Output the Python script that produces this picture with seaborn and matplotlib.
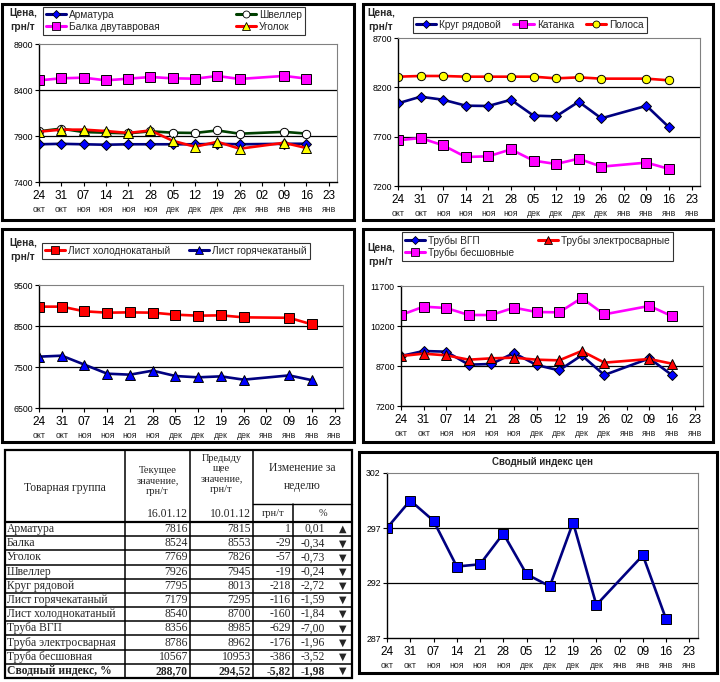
import matplotlib
matplotlib.use('Agg')
import matplotlib.pyplot as plt
from matplotlib.patches import Rectangle
from matplotlib.lines import Line2D
import seaborn as sns

sns.set_style('white')
plt.rcParams['font.family'] = ['Liberation Sans', 'DejaVu Sans']

# ---- axis labels ----
days = ['24', '31', '07', '14', '21', '28', '05', '12', '19', '26', '02', '09', '16', '23']
months = ['окт', 'окт', 'ноя', 'ноя', 'ноя', 'ноя', 'дек', 'дек', 'дек', 'дек', 'янв', 'янв', 'янв', 'янв']
data_idx = [0, 1, 2, 3, 4, 5, 6, 7, 8, 9, 11, 12]  # no point on 02 янв

# ---- panel 1 ----
armatura = [7810, 7815, 7810, 7805, 7810, 7810, 7810, 7810, 7815, 7810, 7815, 7816]
balka = [8505, 8527, 8534, 8505, 8523, 8541, 8527, 8523, 8552, 8520, 8553, 8524]
shveller = [7951, 7980, 7943, 7936, 7929, 7951, 7936, 7933, 7960, 7925, 7945, 7926]
ugolok = [7947, 7969, 7969, 7954, 7933, 7960, 7848, 7783, 7837, 7762, 7826, 7769]

# ---- panel 2 ----
krug = [8038, 8105, 8074, 8014, 8011, 8074, 7913, 7906, 8054, 7886, 8013, 7795]
katanka = [7663, 7686, 7612, 7494, 7501, 7571, 7457, 7423, 7477, 7396, 7437, 7373]
polosa = [8308, 8315, 8315, 8308, 8308, 8308, 8308, 8291, 8301, 8288, 8288, 8271]

# ---- panel 3 ----
list_hol = [8972, 8972, 8858, 8825, 8833, 8825, 8776, 8752, 8760, 8711, 8700, 8540]
list_gor = [7752, 7776, 7557, 7337, 7313, 7411, 7280, 7248, 7272, 7191, 7295, 7179]

# ---- panel 4 ----
truby_vgp = [9075, 9262, 9237, 8750, 8775, 9187, 8737, 8537, 9100, 8362, 8985, 8356]
truby_el = [9075, 9162, 9100, 8937, 8987, 9012, 8937, 8912, 9262, 8825, 8962, 8786]
truby_bs = [10612, 10925, 10875, 10612, 10612, 10887, 10725, 10712, 11250, 10637, 10953, 10567]

# ---- panel 5 ----
index_vals = [297.0, 299.5, 297.66, 293.5, 293.7, 296.5, 292.8, 291.7, 297.5, 290.0, 294.52, 288.70]

# ---- table ----
tbl_names = ['Арматура', 'Балка', 'Уголок', 'Швеллер', 'Круг рядовой', 'Лист горячекатаный',
             'Лист холоднокатаный', 'Труба ВГП', 'Труба электросварная', 'Труба бесшовная',
             'Сводный индекс, %']
tbl_cur = ['7816', '8524', '7769', '7926', '7795', '7179', '8540', '8356', '8786', '10567', '288,70']
tbl_prev = ['7815', '8553', '7826', '7945', '8013', '7295', '8700', '8985', '8962', '10953', '294,52']
tbl_abs = ['1', '-29', '-57', '-19', '-218', '-116', '-160', '-629', '-176', '-386', '-5,82']
tbl_pct = ['0,01', '-0,34', '-0,73', '-0,24', '-2,72', '-1,59', '-1,84', '-7,00', '-1,96', '-3,52', '-1,98']
tbl_dir = ['▲', '▼', '▼', '▼', '▼', '▼', '▼', '▼', '▼', '▼', '▼']

W, H = 720, 682
fig = plt.figure(figsize=(W / 100, H / 100), dpi=100)

NAVY, BLUE, MAG, RED, YEL, GRN = '#000080', '#0000ff', '#ff00ff', '#ff0000', '#ffff00', '#004000'


def fig_rect(x0, y0, x1, y1):
    return [x0 / W, 1 - y1 / H, (x1 - x0) / W, (y1 - y0) / H]


def frame(x0, y0, x1, y1):
    fig.patches.append(Rectangle((x0 / W, 1 - y1 / H), (x1 - x0) / W, (y1 - y0) / H,
                                 transform=fig.transFigure, fill=False, ec='black', lw=2.2))


def panel(box, series, ylim, yticks, title=None):
    ax = fig.add_axes(fig_rect(*box))
    handles = []
    for vals, label, lc, mk, mfc, ms in series:
        sns.lineplot(x=data_idx, y=vals, ax=ax, color=lc, lw=1.9, marker=mk, markersize=ms,
                     markerfacecolor=mfc, markeredgecolor='black', markeredgewidth=0.7)
        handles.append(Line2D([], [], color=lc, lw=2.2, marker=mk, markersize=ms - 1,
                              markerfacecolor=mfc, markeredgecolor='black', markeredgewidth=0.6,
                              label=label))
    ax.set_xlim(0, 13.37)
    ax.set_ylim(*ylim)
    ax.set_yticks(yticks)
    ax.set_yticklabels([str(v) for v in yticks], fontsize=6.3)
    ax.set_xticks(range(len(days)))
    ax.set_xticklabels(days, fontsize=8.5)
    for i, m in enumerate(months):
        ax.annotate(m, xy=(i, 0), xycoords=('data', 'axes fraction'), xytext=(0, -19.5),
                    textcoords='offset points', ha='center', va='center', fontsize=6.3)
    for y in yticks[1:-1]:
        ax.axhline(y, color='black', lw=0.9, zorder=0)
    ax.tick_params(axis='both', direction='out', length=3, width=0.8, pad=1.5,
                   bottom=True, left=True, colors='black')
    ax.tick_params(axis='x', pad=3)
    for s in ['top', 'right']:
        ax.spines[s].set_color('#808080')
        ax.spines[s].set_linewidth(0.8)
    for s in ['left', 'bottom']:
        ax.spines[s].set_color('black')
        ax.spines[s].set_linewidth(1.0)
    ax.set_xlabel('')
    ax.set_ylabel('')
    if title:
        ax.set_title(title, fontsize=7, fontweight='bold', pad=6)
    return ax, handles


def legend(ax, handles, box, ncol, order=None):
    x0, y0, x1, y1 = box
    if order:
        handles = [handles[i] for i in order]
    lg = ax.legend(handles=handles, ncol=ncol, loc='upper left', mode='expand',
                   bbox_to_anchor=(x0 / W, 1 - y1 / H, (x1 - x0) / W, (y1 - y0) / H),
                   bbox_transform=fig.transFigure,
                   fontsize=7.3, frameon=True, fancybox=False, edgecolor='black',
                   handlelength=2.0, handletextpad=0.3, columnspacing=1.0,
                   borderpad=0.3, labelspacing=0.15, borderaxespad=0)
    lg.get_frame().set_linewidth(0.8)


def price_label(x, y):
    fig.text(x / W, 1 - y / H, 'Цена,\nгрн/т', ha='center', va='top', fontsize=7.3,
             fontweight='bold', linespacing=1.5)


# panel 1
frame(2, 4, 354, 220)
ax1, h1 = panel((39, 44, 337, 182), [
    (armatura, 'Арматура', NAVY, 'D', BLUE, 5),
    (balka, 'Балка двутавровая', MAG, 's', MAG, 6.5),
    (shveller, 'Швеллер', GRN, 'o', 'white', 6),
    (ugolok, 'Уголок', RED, '^', YEL, 6.5),
], (7400, 8900), [7400, 7900, 8400, 8900])
legend(ax1, h1, (43, 7, 305, 35), 2)
price_label(23, 8)

# panel 2
frame(363, 4, 713, 220)
ax2, h2 = panel((398, 38, 700, 186), [
    (krug, 'Круг рядовой', NAVY, 'D', BLUE, 5),
    (katanka, 'Катанка', MAG, 's', MAG, 6.5),
    (polosa, 'Полоса', RED, 'o', YEL, 6),
], (7200, 8700), [7200, 7700, 8200, 8700])
legend(ax2, h2, (413, 17, 647, 33), 3)
price_label(381, 8)

# panel 3
frame(2, 229, 354, 442)
ax3, h3 = panel((39, 285, 343, 408), [
    (list_hol, 'Лист холоднокатаный', RED, 's', RED, 6.5),
    (list_gor, 'Лист горячекатаный', NAVY, '^', BLUE, 6.5),
], (6500, 9500), [6500, 7500, 8500, 9500])
legend(ax3, h3, (42, 243, 310, 261), 2)
price_label(23, 238)

# panel 4
frame(363, 229, 713, 442)
ax4, h4 = panel((401, 286, 703, 406), [
    (truby_vgp, 'Трубы ВГП', NAVY, 'D', BLUE, 5),
    (truby_el, 'Трубы электросварные', RED, '^', RED, 6.5),
    (truby_bs, 'Трубы бесшовные', MAG, 's', MAG, 6.5),
], (7200, 11700), [7200, 8700, 10200, 11700])
legend(ax4, h4, (402, 232, 673, 267), 2, order=[0, 2, 1])
price_label(381, 243)

# panel 5
frame(359, 452, 717, 673)
ax5, h5 = panel((387, 473, 698, 638), [
    (index_vals, 'Сводный индекс цен', NAVY, 's', BLUE, 6.5),
], (287, 302), [287, 292, 297, 302], title='Сводный индекс цен')

# ---- table ----
tax = fig.add_axes([0, 0, 1, 1])
tax.set_xlim(0, W)
tax.set_ylim(H, 0)
tax.axis('off')

cols = [5, 125, 190, 253, 293, 352]
top, sub, hdr_bot = 450, 504, 522
row_h = (678 - hdr_bot) / len(tbl_names)
bot = hdr_bot + row_h * len(tbl_names)
serif = ['Liberation Serif', 'DejaVu Serif']
fs = 8.4

# borders
tax.add_patch(Rectangle((cols[0], top), cols[-1] - cols[0], bot - top, fill=False, ec='black', lw=1.6))
for c in cols[1:-1]:
    y_start = sub if c == cols[4] else top
    tax.plot([c, c], [y_start, bot], color='black', lw=1.1)
tax.plot([cols[3], cols[5]], [sub, sub], color='black', lw=1.0)
tax.plot([cols[0], cols[5]], [hdr_bot, hdr_bot], color='black', lw=1.6)
for i in range(1, len(tbl_names)):
    y = hdr_bot + i * row_h
    tax.plot([cols[0], cols[5]], [y, y], color='black', lw=1.1)

# header text
tax.text((cols[0] + cols[1]) / 2, 488, 'Товарная группа', ha='center', va='center',
         fontsize=fs, family=serif)
tax.text((cols[1] + cols[2]) / 2, 481, 'Текущее\nзначение,\nгрн/т', ha='center', va='center',
         fontsize=7.5, family=serif, linespacing=1.2)
tax.text((cols[2] + cols[3]) / 2, 474, 'Предыду\nщее\nзначение,\nгрн/т', ha='center', va='center',
         fontsize=7.5, family=serif, linespacing=1.2)
tax.text((cols[3] + cols[5]) / 2, 477, 'Изменение за\nнеделю', ha='center', va='center',
         fontsize=fs, family=serif, linespacing=1.6)
tax.text(cols[2] - 2, 514, '16.01.12', ha='right', va='center', fontsize=fs, family=serif)
tax.text(cols[3] - 2, 514, '10.01.12', ha='right', va='center', fontsize=fs, family=serif)
tax.text((cols[3] + cols[4]) / 2, 514, 'грн/т', ha='center', va='center', fontsize=7.5, family=serif)
tax.text((cols[4] + cols[5]) / 2, 514, '%', ha='center', va='center', fontsize=7.5, family=serif)

for i, name in enumerate(tbl_names):
    y = hdr_bot + (i + 0.5) * row_h
    fw = 'bold' if i == len(tbl_names) - 1 else 'normal'
    tax.text(cols[0] + 2, y, name, ha='left', va='center', fontsize=fs, family=serif, fontweight=fw)
    tax.text(cols[2] - 2, y, tbl_cur[i], ha='right', va='center', fontsize=fs, family=serif, fontweight=fw)
    tax.text(cols[3] - 2, y, tbl_prev[i], ha='right', va='center', fontsize=fs, family=serif, fontweight=fw)
    tax.text(cols[4] - 2, y, tbl_abs[i], ha='right', va='center', fontsize=fs, family=serif, fontweight=fw)
    tax.text(325, y, tbl_pct[i], ha='right', va='center', fontsize=fs, family=serif, fontweight=fw)
    tax.text(343, y, tbl_dir[i], ha='center', va='center', fontsize=7, family=['DejaVu Sans'])

fig.savefig('out.png', dpi=100)
